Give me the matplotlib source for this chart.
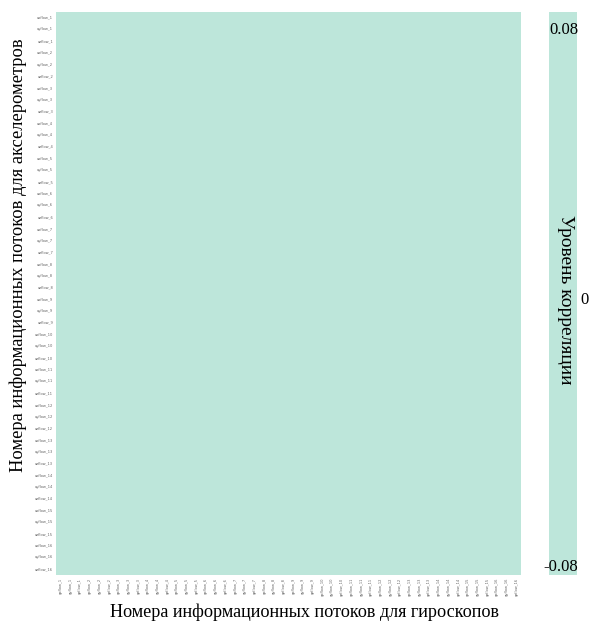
import numpy as np
import matplotlib
matplotlib.use("Agg")
import matplotlib.pyplot as plt
import seaborn as sns
from matplotlib.colors import ListedColormap

# потоки акселерометров (строки) и гироскопов (столбцы)
n_flows = 16
acc_labels = [f"a{axis}flow_{i}" for i in range(1, n_flows + 1) for axis in "xyz"]
gyro_labels = [f"g{axis}flow_{i}" for i in range(1, n_flows + 1) for axis in "xyz"]

# матрица корреляций: все значения нулевые
corr = np.zeros((len(acc_labels), len(gyro_labels)))

vmin, vmax = -0.08, 0.08
cbar_ticks = [-0.08, 0, 0.08]
cbar_tick_text = ["-0.08", "0", "0.08"]

plt.rcParams["font.family"] = ["Liberation Serif", "DejaVu Serif"]

fig = plt.figure(figsize=(5.89, 6.21), dpi=100)
ax = fig.add_axes([0.095, 0.074, 0.790, 0.907])
cax = fig.add_axes([0.932, 0.074, 0.048, 0.907])

cmap = ListedColormap(["#bde6da"])
sns.heatmap(corr, ax=ax, cbar_ax=cax, cmap=cmap, vmin=vmin, vmax=vmax,
            xticklabels=gyro_labels, yticklabels=acc_labels)

ax.tick_params(length=0, labelsize=2.6, pad=2)
for t in ax.get_xticklabels():
    t.set_rotation(90)
    t.set_fontfamily("DejaVu Sans")
    t.set_color("#666666")
for t in ax.get_yticklabels():
    t.set_rotation(0)
    t.set_fontfamily("DejaVu Sans")
    t.set_color("#666666")

ax.set_xlabel("Номера информационных потоков для гироскопов", fontsize=13.1)
ax.set_ylabel("Номера информационных потоков для акселерометров", fontsize=13.3)
ax.xaxis.set_label_coords(0.535, -0.05)
ax.yaxis.set_label_coords(-0.062, 0.567)

# шкала цвета: подписи расставлены вручную
cax.set_yticks([])
for s in cax.spines.values():
    s.set_visible(False)
tick_pos = {
    "-0.08": (-0.21, 0.014),
    "0": (1.1, 0.488),
    "0.08": (0.0, 0.968),
}
for val, txt in zip(cbar_ticks, cbar_tick_text):
    x, y = tick_pos[txt]
    cax.text(x, y, txt, transform=cax.transAxes, ha="left", va="center", fontsize=12)
cax.text(0.6, 0.488, "Уровень корреляции", transform=cax.transAxes,
         rotation=270, ha="center", va="center", fontsize=14)

fig.savefig("out.png", dpi=100)
